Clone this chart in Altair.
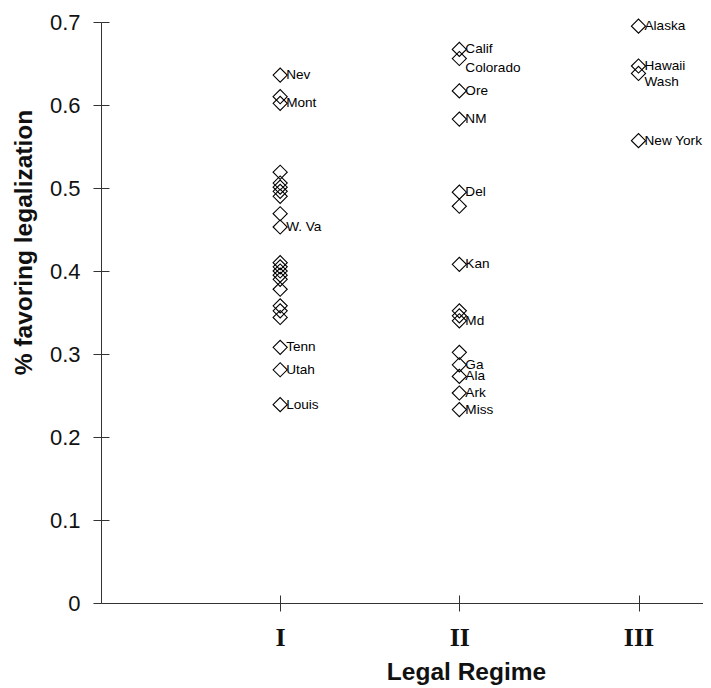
import altair as alt
import pandas as pd

# Legal regime (1 = I, 2 = II, 3 = III)
regime = [1] * 22 + [2] * 15 + [3] * 4

# Share favoring legalization
share = [
    # Regime I
    0.636, 0.610, 0.602,
    0.519, 0.506, 0.501, 0.496, 0.490, 0.469, 0.453,
    0.410, 0.405, 0.400, 0.395, 0.390, 0.378, 0.358, 0.352, 0.344,
    0.308, 0.281, 0.239,
    # Regime II
    0.667, 0.656, 0.617, 0.583, 0.495, 0.478, 0.408,
    0.352, 0.346, 0.340, 0.302, 0.287, 0.273, 0.253, 0.233,
    # Regime III
    0.695, 0.647, 0.638, 0.557,
]

state = [
    "Nev", "", "Mont",
    "", "", "", "", "", "", "W. Va",
    "", "", "", "", "", "", "", "", "",
    "Tenn", "Utah", "Louis",
    "Calif", "Colorado", "Ore", "NM", "Del", "", "Kan",
    "", "", "Md", "", "Ga", "Ala", "Ark", "Miss",
    "Alaska", "Hawaii", "Wash", "New York",
]

# labels printed just below their marker in the original
lowered = ["Colorado", "Wash"]

tick_values_y = [0, 0.1, 0.2, 0.3, 0.4, 0.5, 0.6, 0.7]
tick_values_x = [1, 2, 3]

df = pd.DataFrame({"regime": regime, "share": share, "state": state})

W, H = 602, 581
xs = alt.Scale(domain=[0, 3.36], nice=False, zero=False)
ys = alt.Scale(domain=[0, 0.7], nice=False, zero=False)

AX = "#333333"
TXT = "#111111"

points = alt.Chart(df).mark_point(
    shape="diamond", filled=False, size=200, color="black", strokeWidth=1.1, opacity=1
).encode(
    x=alt.X("regime:Q", scale=xs, axis=alt.Axis(
        orient="bottom", values=tick_values_x,
        labelExpr="datum.value == 1 ? 'I' : (datum.value == 2 ? 'II' : 'III')",
        labelFont="Liberation Serif", labelFontWeight="bold", labelFontSize=26,
        labelColor=TXT, labelPadding=13, tickSize=8, tickColor=AX,
        domainColor=AX, grid=False,
        title="Legal Regime", titleFont="Liberation Sans", titleFontSize=24.5,
        titleFontWeight="bold", titleColor=TXT,
        titleX=365, titleY=76, titleBaseline="alphabetic", titleAlign="center",
    )),
    y=alt.Y("share:Q", scale=ys, axis=alt.Axis(
        orient="left", values=tick_values_y, format=".1~f",
        labelFont="Liberation Sans", labelFontSize=22, labelColor=TXT,
        labelPadding=13, tickSize=8, tickColor=AX, domainColor=AX, grid=False,
        title="% favoring legalization", titleFont="Liberation Sans",
        titleFontSize=24.5, titleFontWeight="bold", titleColor=TXT,
        titleAngle=-90, titleX=-70, titleY=220, titleAlign="center",
        titleBaseline="alphabetic",
    )),
)

labels = alt.Chart(df).transform_filter(
    alt.FieldOneOfPredicate(field="state", oneOf=[s for s in state if s and s not in lowered])
).mark_text(
    align="left", baseline="middle", dx=6, font="Liberation Sans", fontSize=13.6, color="black"
).encode(
    x=alt.X("regime:Q", scale=xs, axis=alt.Axis(
        orient="top", offset=-H, values=tick_values_x, labels=False,
        domain=False, tickSize=8, tickColor=AX, grid=False, title=None)),
    y=alt.Y("share:Q", scale=ys, axis=alt.Axis(
        orient="right", offset=-W, values=tick_values_y, labels=False,
        domain=False, tickSize=8, tickColor=AX, grid=False, title=None)),
    text="state:N",
)

labels_low = alt.Chart(df).transform_filter(
    alt.FieldOneOfPredicate(field="state", oneOf=lowered)
).mark_text(
    align="left", baseline="middle", dx=6, dy=9, font="Liberation Sans", fontSize=13.6, color="black"
).encode(
    x=alt.X("regime:Q", scale=xs, axis=None),
    y=alt.Y("share:Q", scale=ys, axis=None),
    text="state:N",
)

chart = alt.layer(points, labels, labels_low).resolve_scale(
    x="independent", y="independent"
).properties(
    width=W, height=H,
    autosize=alt.AutoSizeParams(type="none"),
    padding={"left": 93, "top": 14, "right": 0, "bottom": 82},
    background="white",
).configure_view(stroke=None)

chart.save("out.html", embed_options={"renderer": "svg", "actions": False})
